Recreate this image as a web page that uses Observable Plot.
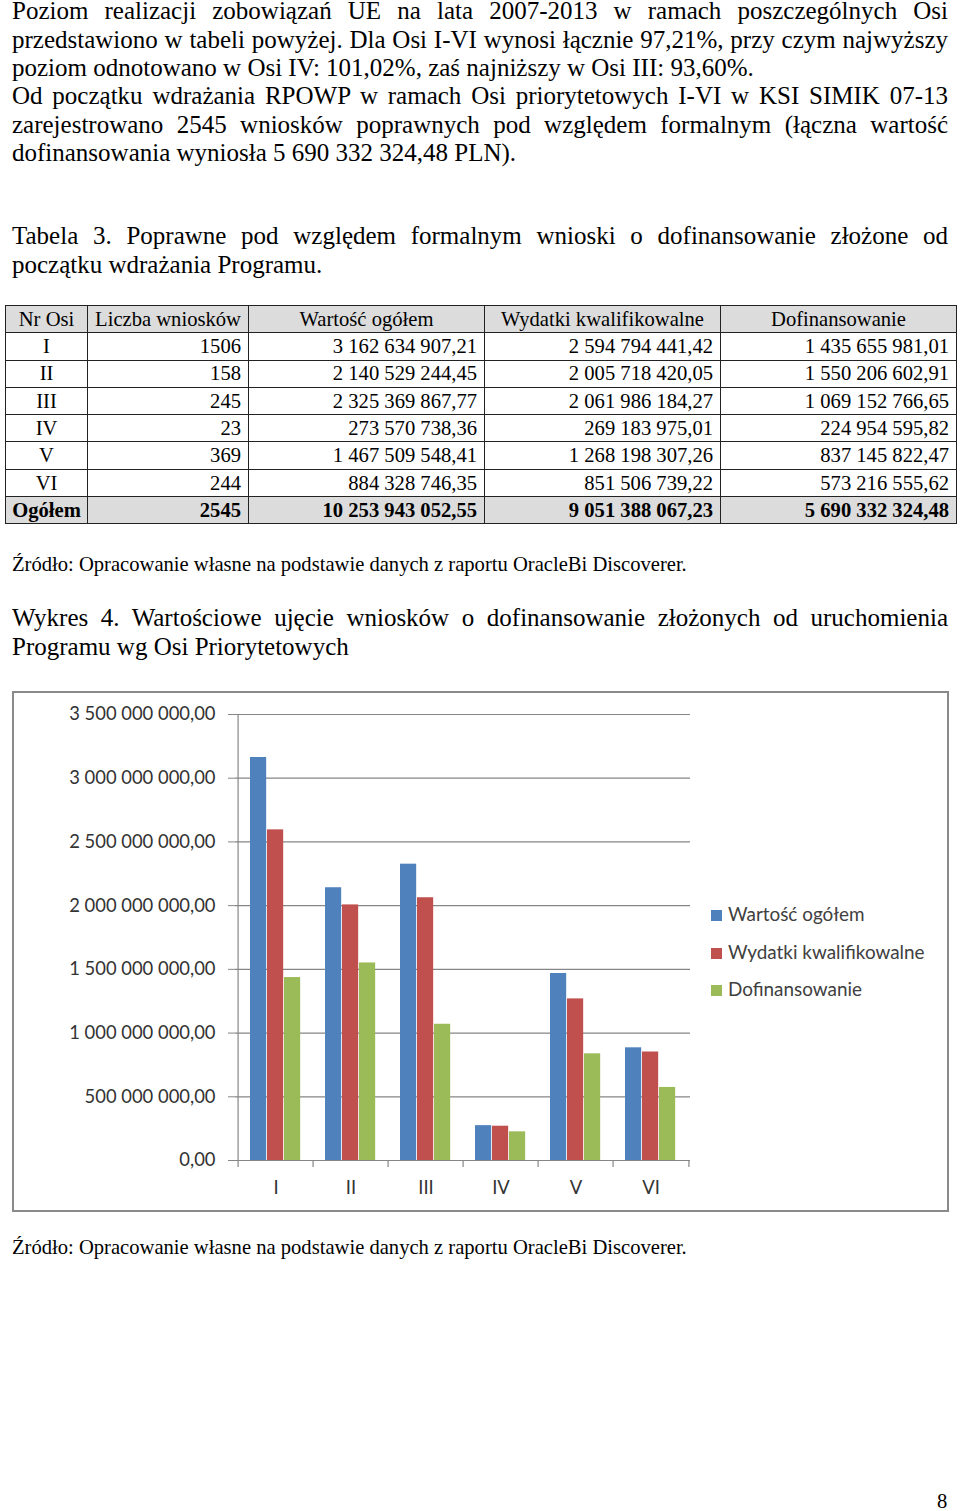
<!DOCTYPE html>
<html>
<head>
<meta charset="utf-8">
<script src="https://cdn.jsdelivr.net/npm/d3@7"></script>
<script src="https://cdn.jsdelivr.net/npm/@observablehq/plot@0.6"></script>
<style>
html,body{margin:0;padding:0;background:#fff;}
#page{position:relative;width:960px;height:1511px;overflow:hidden;font-family:"Liberation Serif","Times New Roman",serif;color:#000;}
.ln{position:absolute;left:12px;white-space:nowrap;line-height:0.9;}
#tab{position:absolute;left:5px;top:305px;border-collapse:collapse;font-family:"Liberation Serif",serif;font-size:20.6px;table-layout:fixed;width:951px;}
#tab td{border:1px solid #222;height:26.3px;padding:0 7px 0 0;line-height:1;text-align:right;white-space:nowrap;}
#tab td.c{text-align:center;padding:0;}
#tab tr.h td{background:#dcdcdc;text-align:center;padding:0;}
#tab tr.t td{background:#dcdcdc;font-weight:bold;}
#box{position:absolute;left:12px;top:691px;width:937px;height:521px;box-sizing:border-box;border:2px solid #8a8a8a;pointer-events:none;}
.lg{position:absolute;left:711px;font-family:Lato,sans-serif;font-size:18.9px;color:#404040;line-height:20px;white-space:nowrap;}
.lg i{display:inline-block;width:11px;height:11px;margin-right:6px;vertical-align:0px;}
</style>
</head>
<body>
<div id="page"></div>
<script>
// ---- data ----
const osie = ["I", "II", "III", "IV", "V", "VI"];
const liczbaWnioskow = [1506, 158, 245, 23, 369, 244];
const wartoscOgolem = [3162634907.21, 2140529244.45, 2325369867.77, 273570738.36, 1467509548.41, 884328746.35];
const wydatkiKwalifikowalne = [2594794441.42, 2005718420.05, 2061986184.27, 269183975.01, 1268198307.26, 851506739.22];
const dofinansowanie = [1435655981.01, 1550206602.91, 1069152766.65, 224954595.82, 837145822.47, 573216555.62];
const ogolem = [2545, 10253943052.55, 9051388067.23, 5690332324.48];
const naglowki = ["Nr Osi", "Liczba wniosków", "Wartość ogółem", "Wydatki kwalifikowalne", "Dofinansowanie"];
const serie = ["Wartość ogółem", "Wydatki kwalifikowalne", "Dofinansowanie"];
const kolory = ["#4F81BD", "#C0504D", "#9BBB59"];
const yTicks = [0, 500000000, 1000000000, 1500000000, 2000000000, 2500000000, 3000000000, 3500000000];

const akapit1 = [
  "Poziom realizacji zobowiązań UE na lata 2007-2013 w ramach poszczególnych Osi",
  "przedstawiono w tabeli powyżej. Dla Osi I-VI wynosi łącznie 97,21%, przy czym najwyższy",
  "poziom odnotowano w Osi IV: 101,02%, zaś najniższy w Osi III: 93,60%.",
  "Od początku wdrażania RPOWP w ramach Osi priorytetowych I-VI w KSI SIMIK 07-13",
  "zarejestrowano 2545 wniosków poprawnych pod względem formalnym (łączna wartość",
  "dofinansowania wyniosła 5 690 332 324,48 PLN)."
];
const tabelaTytul = [
  "Tabela 3. Poprawne pod względem formalnym wnioski o dofinansowanie złożone od",
  "początku wdrażania Programu."
];
const wykresTytul = [
  "Wykres 4. Wartościowe ujęcie wniosków o dofinansowanie złożonych od uruchomienia",
  "Programu wg Osi Priorytetowych"
];
const zrodlo = "Źródło: Opracowanie własne na podstawie danych z raportu OracleBi Discoverer.";
const numerStrony = "8";

// ---- formatting ----
const pl = d3.formatLocale({decimal: ",", thousands: " ", grouping: [3], currency: ["", ""]});
const fmt2 = pl.format(",.2f");

const page = document.getElementById("page");

function line(text, baseline, size, justify, left = 12) {
  const d = document.createElement("div");
  d.className = "ln";
  d.style.fontSize = size + "px";
  d.style.left = left + "px";
  d.style.top = (baseline - 0.7875 * size) + "px";
  const s = document.createElement("span");
  s.textContent = text;
  d.appendChild(s);
  page.appendChild(d);
  if (justify) {
    const w = s.getBoundingClientRect().width;
    const n = (text.match(/ /g) || []).length;
    if (n) s.style.wordSpacing = ((936 - w) / n) + "px";
  }
  return d;
}

// paragraph
const just1 = [true, true, false, true, true, false];
akapit1.forEach((t, i) => line(t, 19.8 + i * 28.4, 25, just1[i]));
tabelaTytul.forEach((t, i) => line(t, 245 + i * 28.2, 25, i === 0));
line(zrodlo, 571, 20.6, false);
wykresTytul.forEach((t, i) => line(t, 627 + i * 28.2, 25, i === 0));
line(zrodlo, 1254, 20.6, false);
line(numerStrony, 1508, 20.6, false, 937);

// ---- table ----
const tab = document.createElement("table");
tab.id = "tab";
const cg = document.createElement("colgroup");
[82, 161, 236, 236, 236].forEach(w => { const c = document.createElement("col"); c.style.width = w + "px"; cg.appendChild(c); });
tab.appendChild(cg);
const hr = tab.insertRow(); hr.className = "h";
naglowki.forEach(h => { const c = hr.insertCell(); c.textContent = h; });
osie.forEach((o, i) => {
  const r = tab.insertRow();
  const c0 = r.insertCell(); c0.textContent = o; c0.className = "c";
  r.insertCell().textContent = String(liczbaWnioskow[i]);
  r.insertCell().textContent = fmt2(wartoscOgolem[i]);
  r.insertCell().textContent = fmt2(wydatkiKwalifikowalne[i]);
  r.insertCell().textContent = fmt2(dofinansowanie[i]);
});
const tr = tab.insertRow(); tr.className = "t";
const t0 = tr.insertCell(); t0.textContent = "Ogółem"; t0.className = "c";
tr.insertCell().textContent = String(ogolem[0]);
ogolem.slice(1).forEach(v => tr.insertCell().textContent = fmt2(v));
page.appendChild(tab);

// ---- chart ----
const W = 937, H = 521, mL = 223, mR = 259, mT = 23, mB = 52;
const bw = (W - mL - mR) / osie.length;
const side = 12, barW = 17;
const rows = osie.map((o, i) => ({os: o, v0: wartoscOgolem[i], v1: wydatkiKwalifikowalne[i], v2: dofinansowanie[i]}));
const axisColor = "#868686";

const chart = Plot.plot({
  width: W, height: H,
  marginLeft: mL, marginRight: mR, marginTop: mT, marginBottom: mB,
  style: {fontFamily: "Lato, sans-serif", fontSize: "18.4px", color: "#333", background: "transparent", overflow: "visible"},
  x: {domain: osie, padding: 0, label: null},
  y: {domain: [0, 3500000000], label: null},
  marks: [
    Plot.gridY(yTicks, {stroke: axisColor, strokeOpacity: 1, strokeWidth: 1.2}),
    Plot.axisY(yTicks, {tickSize: 7, tickPadding: 13, tickFormat: fmt2, stroke: axisColor, strokeOpacity: 1, label: null, fill: "#333"}),
    Plot.ruleX([osie[0]], {x: d => d, dx: -bw / 2, y1: 0, y2: 3500000000, stroke: axisColor, strokeWidth: 1.2}),
    ...["v0", "v1", "v2"].map((k, j) => Plot.barY(rows, {
      x: "os", y: k, fill: kolory[j],
      insetLeft: side + j * barW, insetRight: bw - side - (j + 1) * barW
    })),
    Plot.ruleX(osie, {x: d => d, dx: -bw / 2, y1: 0, y2: 0, insetBottom: -7, stroke: axisColor, strokeWidth: 1.2}),
    Plot.ruleX([osie[osie.length - 1]], {x: d => d, dx: bw / 2, y1: 0, y2: 0, insetBottom: -7, stroke: axisColor, strokeWidth: 1.2}),
    Plot.axisX({tickSize: 0, tickPadding: 20, label: null, fill: "#333"})
  ]
});
chart.style.position = "absolute";
chart.style.left = "12px";
chart.style.top = "691px";
page.appendChild(chart);

const box = document.createElement("div");
box.id = "box";
page.appendChild(box);

// legend
const lgY = [914, 952, 989];
serie.forEach((s, j) => {
  const d = document.createElement("div");
  d.className = "lg";
  d.style.top = (lgY[j] - 10) + "px";
  const sw = document.createElement("i");
  sw.style.background = kolory[j];
  d.appendChild(sw);
  d.appendChild(document.createTextNode(s));
  page.appendChild(d);
});
</script>
</body>
</html>
